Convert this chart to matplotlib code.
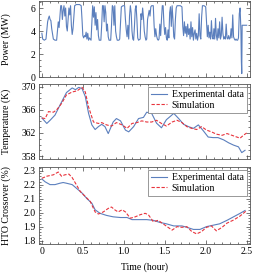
import numpy as np
import matplotlib
matplotlib.use("Agg")
import matplotlib.pyplot as plt
from matplotlib.ticker import MultipleLocator, FixedLocator, FuncFormatter

plt.rcParams['font.family'] = ['Liberation Serif', 'DejaVu Serif']
plt.rcParams['font.size'] = 7

# Power (MW)
power_t = [0.00, 0.01, 0.03, 0.05, 0.07, 0.08, 0.09, 0.10, 0.11, 0.12, 0.14, 0.16, 0.18, 0.19, 0.20,
           0.21, 0.22, 0.23, 0.24, 0.25, 0.26, 0.27, 0.28, 0.29, 0.30, 0.31, 0.32, 0.33, 0.34, 0.35,
           0.36, 0.37, 0.38, 0.40, 0.42, 0.44, 0.46, 0.48, 0.49, 0.50, 0.51, 0.52, 0.53, 0.54, 0.55,
           0.56, 0.57, 0.58, 0.60, 0.61, 0.62, 0.63, 0.64, 0.65, 0.66, 0.67, 0.68, 0.69, 0.70, 0.72,
           0.73, 0.74, 0.75, 0.76, 0.77, 0.78, 0.79, 0.80, 0.81, 0.82, 0.84, 0.85, 0.86, 0.87, 0.88,
           0.89, 0.90, 0.91, 0.92, 0.94, 0.95, 0.97, 0.99, 1.01, 1.02, 1.03, 1.04, 1.05, 1.06, 1.07,
           1.08, 1.09, 1.10, 1.11, 1.12, 1.13, 1.14, 1.15, 1.16, 1.17, 1.18, 1.20, 1.21, 1.22, 1.23,
           1.24, 1.25, 1.26, 1.27, 1.28, 1.29, 1.30, 1.31, 1.32, 1.33, 1.34, 1.36, 1.37, 1.38, 1.39,
           1.40, 1.41, 1.42, 1.43, 1.44, 1.45, 1.46, 1.47, 1.48, 1.49, 1.50, 1.51, 1.52, 1.53, 1.54,
           1.55, 1.56, 1.57, 1.58, 1.59, 1.60, 1.61, 1.62, 1.63, 1.64, 1.65, 1.67, 1.69, 1.71, 1.72,
           1.73, 1.74, 1.75, 1.76, 1.77, 1.78, 1.79, 1.80, 1.81, 1.82, 1.83, 1.84, 1.85, 1.86, 1.87,
           1.88, 1.89, 1.90, 1.91, 1.92, 1.93, 1.94, 1.95, 1.96, 1.98, 2.00, 2.01, 2.02, 2.03, 2.04,
           2.05, 2.06, 2.07, 2.08, 2.09, 2.10, 2.11, 2.12, 2.13, 2.14, 2.15, 2.16, 2.17, 2.18, 2.19,
           2.20, 2.21, 2.22, 2.23, 2.24, 2.25, 2.26, 2.27, 2.28, 2.29, 2.30, 2.31, 2.32, 2.33, 2.34,
           2.35, 2.36, 2.37, 2.38, 2.39, 2.40, 2.41, 2.42, 2.43, 2.435, 2.44, 2.445, 2.45, 2.50]
power_v = [3.8, 3.3, 3.2, 3.3, 4.8, 5.1, 5.3, 5.0, 4.9, 4.2, 3.3, 3.2, 3.2, 4.0, 4.8,
           4.3, 5.2, 6.2, 6.2, 5.0, 5.8, 6.2, 5.3, 6.0, 4.4, 4.0, 5.0, 6.0, 5.4, 6.2,
           4.5, 3.7, 4.2, 6.2, 6.3, 6.3, 6.3, 6.2, 5.0, 3.6, 3.4, 3.6, 3.5, 3.9, 3.3,
           3.8, 3.2, 3.4, 3.2, 4.8, 6.2, 5.2, 6.1, 4.5, 5.6, 4.1, 5.0, 3.6, 3.2, 3.2,
           4.5, 6.2, 6.2, 4.8, 6.2, 5.6, 4.0, 4.6, 3.5, 3.2, 3.2, 4.5, 6.2, 6.1, 4.5,
           6.2, 4.0, 3.5, 3.2, 3.2, 3.3, 6.1, 6.2, 6.2, 5.0, 4.1, 3.5, 4.5, 3.3, 5.3,
           6.2, 5.6, 4.0, 3.3, 3.2, 4.4, 5.9, 6.2, 5.0, 3.4, 3.2, 3.3, 5.5, 5.0, 6.0,
           5.2, 4.0, 3.5, 3.2, 3.3, 5.0, 5.4, 5.8, 5.3, 6.1, 6.2, 6.2, 4.5, 3.5, 4.2,
           3.6, 3.3, 3.2, 3.3, 4.6, 3.6, 5.0, 6.2, 6.2, 4.6, 3.7, 4.3, 3.4, 3.2, 4.1,
           3.4, 5.6, 6.1, 4.4, 6.2, 5.0, 3.5, 3.3, 5.0, 6.0, 6.2, 6.2, 6.2, 6.1, 4.4,
           3.6, 4.8, 3.8, 4.4, 3.5, 4.6, 3.7, 4.2, 3.3, 4.8, 3.5, 4.3, 3.2, 3.8, 4.1,
           3.3, 3.8, 3.2, 3.6, 5.5, 3.6, 3.3, 5.2, 6.2, 6.2, 6.1, 4.8, 3.5, 4.5, 3.4,
           3.9, 3.3, 4.9, 3.5, 3.3, 4.2, 3.3, 5.1, 3.6, 3.2, 4.2, 3.4, 4.8, 3.3, 3.6,
           5.2, 3.8, 3.3, 3.5, 3.3, 4.6, 3.4, 3.3, 3.6, 3.3, 3.4, 4.2, 3.4, 5.4, 3.5,
           3.3, 3.2, 3.3, 3.2, 3.2, 3.4, 5.5, 6.0, 4.0, 1.5, 0.3, 4.5, 4.5, 4.5]

# Temperature (K)
temp_exp_t = [0.00, 0.06, 0.10, 0.16, 0.22, 0.30, 0.37, 0.41, 0.45, 0.49, 0.53, 0.57, 0.61, 0.65,
              0.69, 0.73, 0.77, 0.81, 0.87, 0.91, 0.96, 1.02, 1.06, 1.12, 1.18, 1.24, 1.28, 1.34,
              1.40, 1.46, 1.52, 1.57, 1.61, 1.67, 1.73, 1.79, 1.85, 1.91, 1.97, 2.03, 2.09, 2.15,
              2.22, 2.28, 2.34, 2.40, 2.44, 2.48]
temp_exp_v = [364.6, 363.65, 364.2, 365.1, 366.8, 369.0, 369.8, 369.5, 369.9, 369.7, 368.3, 365.4,
              363.4, 362.6, 363.1, 363.5, 363.1, 361.9, 363.9, 364.5, 364.1, 362.5, 362.2, 363.1,
              364.5, 364.7, 365.6, 365.4, 363.7, 362.9, 364.3, 364.9, 365.4, 364.5, 363.5, 363.1,
              362.8, 363.4, 362.4, 361.3, 361.2, 361.2, 360.8, 360.3, 359.9, 359.6, 358.6, 359.0]
temp_sim_t = [0.00, 0.04, 0.08, 0.14, 0.18, 0.24, 0.30, 0.37, 0.43, 0.49, 0.53, 0.57, 0.63, 0.69,
              0.73, 0.79, 0.85, 0.91, 0.98, 1.04, 1.10, 1.16, 1.22, 1.28, 1.34, 1.40, 1.46, 1.52,
              1.59, 1.65, 1.71, 1.77, 1.83, 1.89, 1.95, 2.01, 2.07, 2.13, 2.20, 2.26, 2.32, 2.38,
              2.42, 2.46, 2.50]
temp_sim_v = [364.6, 364.5, 365.7, 365.6, 366.0, 367.1, 368.6, 369.1, 369.3, 369.9, 369.1, 366.5,
              363.9, 363.65, 363.8, 363.4, 363.2, 363.8, 363.4, 362.8, 363.65, 363.8, 364.1, 363.9,
              363.9, 364.2, 363.65, 363.2, 363.9, 364.2, 363.8, 363.1, 362.8, 362.6, 363.1, 362.5,
              362.2, 361.8, 361.6, 361.9, 361.6, 361.3, 361.1, 361.6, 362.0]

# HTO crossover (%)
hto_exp_t = [0.00, 0.04, 0.10, 0.16, 0.22, 0.26, 0.30, 0.37, 0.43, 0.49, 0.55, 0.61, 0.65, 0.71,
             0.79, 0.87, 0.96, 1.04, 1.10, 1.20, 1.28, 1.36, 1.44, 1.52, 1.61, 1.71, 1.77, 1.85,
             1.93, 2.01, 2.09, 2.17, 2.26, 2.34, 2.42, 2.48]
hto_exp_v = [2.24, 2.22, 2.20, 2.20, 2.21, 2.215, 2.21, 2.20, 2.17, 2.14, 2.10, 2.067, 2.02, 1.995,
             1.98, 1.97, 1.965, 1.965, 1.95, 1.95, 1.95, 1.945, 1.93, 1.92, 1.905, 1.905, 1.895, 1.88,
             1.88, 1.90, 1.91, 1.92, 1.945, 1.97, 1.995, 2.015]
hto_sim_t = [0.00, 0.06, 0.14, 0.20, 0.24, 0.28, 0.33, 0.37, 0.41, 0.47, 0.53, 0.59, 0.65, 0.69,
             0.75, 0.81, 0.85, 0.89, 0.93, 0.98, 1.02, 1.08, 1.14, 1.20, 1.26, 1.30, 1.36, 1.42,
             1.48, 1.54, 1.59, 1.65, 1.71, 1.77, 1.83, 1.89, 1.95, 2.01, 2.07, 2.13, 2.20, 2.26,
             2.34, 2.42, 2.50]
hto_sim_v = [2.245, 2.26, 2.27, 2.29, 2.26, 2.27, 2.275, 2.25, 2.21, 2.15, 2.115, 2.08, 2.005, 1.99,
             2.005, 2.03, 2.04, 2.02, 2.005, 2.02, 2.005, 1.96, 1.97, 1.985, 1.995, 1.985, 1.935, 1.945,
             1.92, 1.895, 1.875, 1.90, 1.895, 1.90, 1.865, 1.848, 1.865, 1.895, 1.905, 1.87, 1.895, 1.925,
             1.947, 1.976, 2.015]

x_ticks = [0, 0.5, 1.0, 1.5, 2.0, 2.5]
x_ticklabels = ['0', '0.5', '1.0', '1.5', '2.0', '2.5']
power_ticks = [0, 2, 4, 6]
temp_ticks = [358, 362, 366, 370]
hto_ticks = [1.8, 1.9, 2.0, 2.1, 2.2, 2.3]

BLUE = '#5b7fbd'
RED = '#e8333c'

fig = plt.figure(figsize=(2.54, 2.76), dpi=100)
L, W = 0.152, 0.832
ax1 = fig.add_axes([L, 0.721, W, 0.275])
ax2 = fig.add_axes([L, 0.424, W, 0.272])
ax3 = fig.add_axes([L, 0.116, W, 0.279])

ax1.plot(power_t, power_v, color=BLUE, lw=0.8)
ax1.set_ylim(0, 6.6)
ax1.yaxis.set_major_locator(FixedLocator(power_ticks))
ax1.yaxis.set_minor_locator(MultipleLocator(0.5))
ax1.set_ylabel('Power (MW)')

ax2.plot(temp_exp_t, temp_exp_v, color=BLUE, lw=0.8, label='Experimental data')
ax2.plot(temp_sim_t, temp_sim_v, color=RED, lw=0.8, ls=(0, (3, 1.5)), label='Simulation')
ax2.set_ylim(357.5, 370.5)
ax2.yaxis.set_major_locator(FixedLocator(temp_ticks))
ax2.yaxis.set_minor_locator(MultipleLocator(1))
ax2.set_ylabel('Temperature (K)')

ax3.plot(hto_exp_t, hto_exp_v, color=BLUE, lw=0.8, label='Experimental data')
ax3.plot(hto_sim_t, hto_sim_v, color=RED, lw=0.8, ls=(0, (3, 1.5)), label='Simulation')
ax3.set_ylim(1.776, 2.326)
ax3.yaxis.set_major_locator(FixedLocator(hto_ticks))
ax3.yaxis.set_minor_locator(MultipleLocator(0.02))
ax3.yaxis.set_major_formatter(FuncFormatter(lambda v, p: f'{v:.1f}'))
ax3.set_ylabel('HTO Crossover (%)')
ax3.set_xlabel('Time (hour)', labelpad=5)

for ax in (ax1, ax2, ax3):
    ax.set_xlim(-0.04, 2.54)
    ax.xaxis.set_major_locator(FixedLocator(x_ticks))
    ax.xaxis.set_minor_locator(MultipleLocator(0.1))
    ax.tick_params(which='both', direction='in', top=True, right=True, labelsize=7, pad=2,
                   width=0.5, color='#444444')
    ax.tick_params(which='major', length=3)
    ax.tick_params(which='minor', length=1.5)
    for s in ax.spines.values():
        s.set_linewidth(0.6)
        s.set_color('#555555')
    ax.yaxis.set_label_coords(-0.13, 0.5)
    if ax is not ax3:
        ax.xaxis.set_major_formatter(FuncFormatter(lambda v, p: ''))

ax3.xaxis.set_major_formatter(FuncFormatter(lambda v, p: x_ticklabels[x_ticks.index(v)] if v in x_ticks else ''))

for ax in (ax2, ax3):
    leg = ax.legend(loc='upper right', fontsize=7, fancybox=False, framealpha=1,
                    edgecolor='#888888', handlelength=1.6, borderpad=0.35, labelspacing=0.15,
                    handletextpad=0.5, borderaxespad=0.3)
    leg.get_frame().set_linewidth(0.6)

fig.savefig('out.png', dpi=100)
